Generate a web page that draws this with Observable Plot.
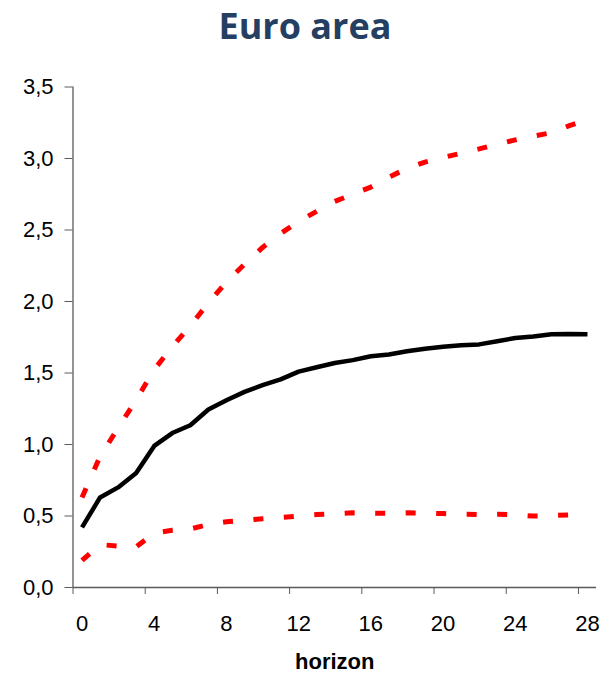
<!DOCTYPE html>
<html>
<head>
<meta charset="utf-8">
<script src="https://cdn.jsdelivr.net/npm/d3@7"></script>
<script src="https://cdn.jsdelivr.net/npm/@observablehq/plot@0.6"></script>
<style>
  html, body { margin: 0; padding: 0; background: #fff; }
  #title {
    box-sizing: border-box;
    height: 50px;
    padding-top: 8px;
    padding-left: 6px;
    line-height: 36px;
    text-align: center;
    font-family: "Open Sans", sans-serif;
    font-weight: 700;
    font-size: 36px;
    color: #253f62;
  }
  #chart svg { display: block; }
</style>
</head>
<body>
<div id="title">Euro area</div>
<div id="chart"></div>
<script>
// categories (horizon)
const horizon = [0,1,2,3,4,5,6,7,8,9,10,11,12,13,14,15,16,17,18,19,20,21,22,23,24,25,26,27,28];
// series values
const median = [0.42,0.63,0.70,0.80,0.99,1.08,1.135,1.245,1.31,1.368,1.415,1.455,1.51,1.54,1.57,1.59,1.617,1.63,1.652,1.67,1.683,1.694,1.70,1.722,1.745,1.755,1.771,1.773,1.771];
const upper  = [0.63,0.916,1.116,1.312,1.524,1.685,1.83,1.99,2.137,2.26,2.378,2.475,2.56,2.63,2.70,2.75,2.80,2.87,2.93,2.975,3.007,3.037,3.067,3.10,3.13,3.157,3.18,3.23,3.27];
const lower  = [0.19,0.30,0.29,0.285,0.38,0.40,0.41,0.44,0.46,0.47,0.48,0.49,0.50,0.51,0.515,0.522,0.52,0.518,0.522,0.52,0.517,0.512,0.51,0.512,0.508,0.50,0.503,0.507,0.507];
// tick labels
const xTickLabels = [0,4,8,12,16,20,24,28];
const xTickMarks = [-0.5,3.5,7.5,11.5,15.5,19.5,23.5,27.5];
const yTicks = [0,0.5,1,1.5,2,2.5,3,3.5];
const xLabel = "horizon";

const rows = horizon.map((h, i) => ({h, median: median[i], upper: upper[i], lower: lower[i]}));

const axisColor = "#5a5a5a";

const chart = Plot.plot({
  width: 604,
  height: 624,
  marginLeft: 72.5,
  marginRight: 8,
  marginTop: 36.5,
  marginBottom: 87,
  style: {fontFamily: "'Liberation Sans', Arial, sans-serif", fontSize: "22px", color: "#000", background: "#fff"},
  x: {domain: [-0.5, 28.5]},
  y: {domain: [0, 3.5]},
  marks: [
    Plot.axisY({ticks: yTicks, tickSize: 8, tickPadding: 11.5, tickFormat: d => d.toFixed(1).replace(".", ","), stroke: axisColor, fill: "#000", label: null, fontSize: 22}),
    Plot.axisX({ticks: xTickMarks, tickSize: 7, tickFormat: () => "", stroke: axisColor, label: null}),
    Plot.axisX({ticks: xTickLabels, tickSize: 0, tickPadding: 27.5, tickFormat: d => String(d), fill: "#000", label: null, fontSize: 22}),
    Plot.ruleX([-0.5], {y1: 0, y2: 3.5, stroke: axisColor, strokeWidth: 1.3}),
    Plot.ruleY([0], {x1: -0.5, x2: 28.5, stroke: axisColor, strokeWidth: 1.3}),
    Plot.line(rows, {x: "h", y: "upper", stroke: "#ff0000", strokeWidth: 5, strokeDasharray: "10,20.5", strokeLinecap: "butt", strokeLinejoin: "miter"}),
    Plot.line(rows, {x: "h", y: "lower", stroke: "#ff0000", strokeWidth: 5, strokeDasharray: "10,20.5", strokeLinecap: "butt", strokeLinejoin: "miter"}),
    Plot.line(rows, {x: "h", y: "median", stroke: "#000", strokeWidth: 4.5, strokeLinecap: "butt", strokeLinejoin: "round"}),
    Plot.text([xLabel], {frameAnchor: "bottom", dy: 81, text: d => d, fontWeight: "bold", fontSize: 22, fill: "#000"})
  ]
});
document.getElementById("chart").appendChild(chart);
</script>
</body>
</html>
